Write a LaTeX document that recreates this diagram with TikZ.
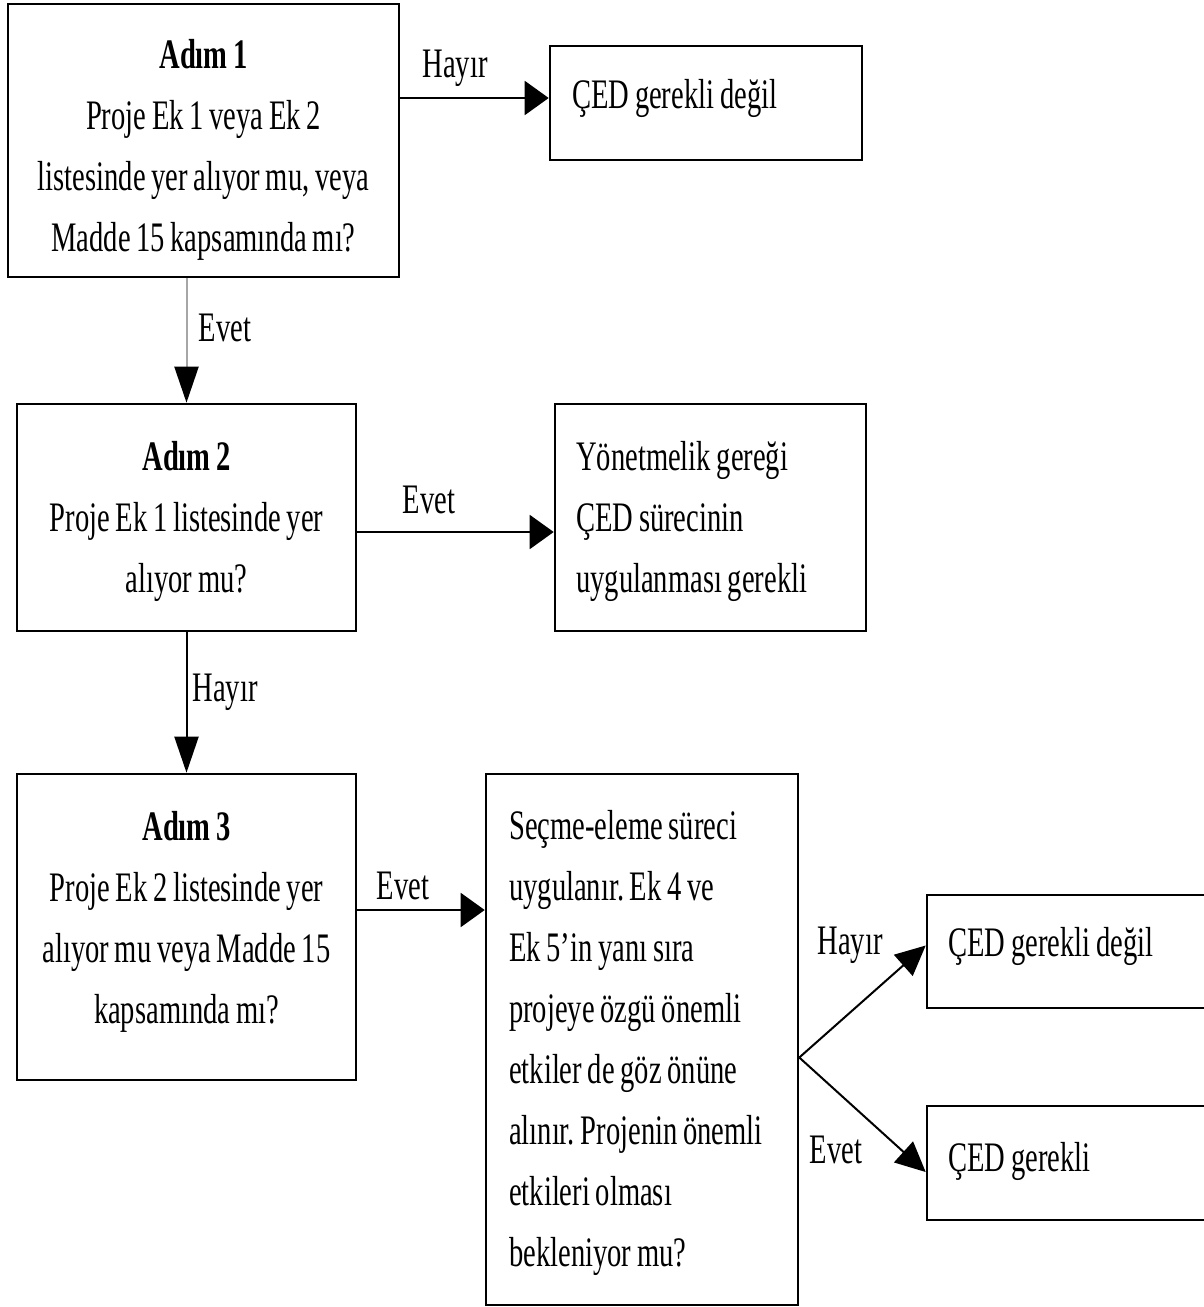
\documentclass[tikz,border=0pt]{standalone}
\usepackage{fontspec}
\setmainfont{Liberation Serif}[FakeStretch=0.68,WordSpace=0.8]
\usetikzlibrary{arrows.meta}
\frenchspacing
\begin{document}
\frenchspacing
\begin{tikzpicture}[x=1pt,y=-1pt,
  box/.style={draw=black, line width=2.6pt, inner sep=0pt},
  txt/.style={inner sep=0pt, font=\fontsize{42}{61}\selectfont},
  lbl/.style={font=\fontsize{42}{50}\selectfont, inner sep=0pt},
  harr/.style={line width=2pt, -{Triangle[length=24pt,width=34pt]}},
  varr/.style={line width=2pt, -{Triangle[length=36pt,width=24pt,color=black]}},
  darr/.style={line width=2pt, -{Triangle[length=30pt,width=28pt]}},
]
\useasboundingbox (0,0) rectangle (1204,1307);
\clip (0,0) rectangle (1204,1307);

% boxes
\node[box, minimum width=391pt, minimum height=273pt] (s1) at (203.5,140.5) {};
\node[box, minimum width=312pt, minimum height=114pt] (ced1) at (706,103) {};
\node[box, minimum width=339pt, minimum height=227pt] (s2) at (186.5,517.5) {};
\node[box, minimum width=311pt, minimum height=227pt] (yon) at (710.5,517.5) {};
\node[box, minimum width=339pt, minimum height=306pt] (s3) at (186.5,927) {};
\node[box, minimum width=312pt, minimum height=531pt] (sec) at (642,1039.5) {};
\node[box, minimum width=300pt, minimum height=113pt] (r1) at (1077,951.5) {};
\node[box, minimum width=300pt, minimum height=114pt] (r2) at (1077,1163) {};

% texts
\node[txt, align=center] (s1t) at (203.5,150)
  {\textbf{Adım 1}\\Proje Ek 1 veya Ek 2\\listesinde yer alıyor mu, veya\\Madde 15 kapsamında mı?};
\node[txt, anchor=west] (ced1t) at (572,98) {ÇED gerekli değil};
\node[txt, align=center] (s2t) at (186.5,521)
  {\textbf{Adım 2}\\Proje Ek 1 listesinde yer\\alıyor mu?};
\node[txt, align=left, anchor=west] (yont) at (576,521)
  {Yönetmelik gereği\\ÇED sürecinin\\uygulanması gerekli};
\node[txt, align=center] (s3t) at (186.5,922)
  {\textbf{Adım 3}\\Proje Ek 2 listesinde yer\\alıyor mu veya Madde 15\\kapsamında mı?};
\node[txt, align=left, anchor=west] (sect) at (509,1043)
  {Seçme-eleme süreci\\uygulanır. Ek 4 ve\\Ek 5’in yanı sıra\\projeye özgü önemli\\etkiler de göz önüne\\alınır. Projenin önemli\\etkileri olması\\bekleniyor mu?};
\node[txt, anchor=west] (r1t) at (948,946) {ÇED gerekli değil};
\node[txt, anchor=west] (r2t) at (948,1161) {ÇED gerekli};

% connectors
\coordinate (h1) at ([yshift=5pt]ced1.west);
\draw[harr] (h1 -| s1.east) -- (h1);
\node[lbl] (l1) at (455,68) {Hayır};

\draw[varr, draw=black!35] (s2.north |- s1.south) -- (s2.north);
\node[lbl] (l2) at (225,328) {Evet};

\coordinate (h2) at ([yshift=-14.5pt]yon.west);
\draw[harr] (h2 -| s2.east) -- (h2);
\node[lbl] (l3) at (429,500) {Evet};

\draw[varr] (s2.south) -- (s3.north);
\node[lbl] (l4) at (225,692) {Hayır};

\coordinate (h3) at ([yshift=17pt]s3.east);
\draw[harr] (h3) -- (h3 -| sec.west);
\node[lbl] (l5) at (403,886) {Evet};

\coordinate (fork) at ([yshift=-18pt]sec.east);
\draw[darr] (fork) -- ([yshift=6pt]r1.west);
\draw[darr] (fork) -- ([yshift=-9pt]r2.west);
\node[lbl] (l6) at (850,945) {Hayır};
\node[lbl] (l7) at (836,1150) {Evet};
\end{tikzpicture}
\end{document}
